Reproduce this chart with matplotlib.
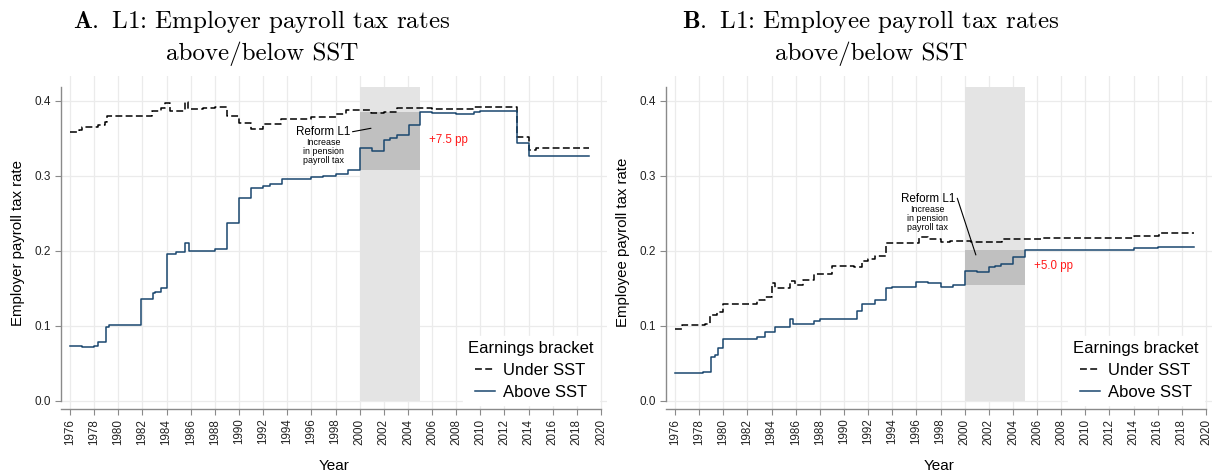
import matplotlib
matplotlib.use("Agg")
import matplotlib.pyplot as plt
import numpy as np

plt.rcParams['font.family'] = ['Liberation Sans', 'DejaVu Sans']
plt.rcParams['mathtext.fontset'] = 'cm'

# Step series: year where a new rate starts, rate value (last point closes the line)
empr_under_years = [1976.0, 1976.75, 1977.0, 1978.35, 1978.9, 1979.1, 1982.8, 1983.5, 1983.9,
                    1984.3, 1985.5, 1985.8, 1987.0, 1988.0, 1989.0, 1990.0, 1991.0, 1992.0,
                    1993.5, 1996.0, 1998.0, 1998.9, 2000.9, 2002.0, 2003.1, 2005.0, 2006.0,
                    2009.4, 2013.0, 2014.0, 2014.6, 2019.0]
empr_under_vals = [0.358, 0.361, 0.365, 0.368, 0.372, 0.380, 0.387, 0.391, 0.397,
                   0.386, 0.398, 0.389, 0.390, 0.392, 0.380, 0.370, 0.363, 0.369,
                   0.376, 0.378, 0.383, 0.388, 0.384, 0.385, 0.390, 0.391, 0.389,
                   0.392, 0.352, 0.335, 0.337, 0.337]

empr_above_years = [1976.0, 1977.0, 1978.0, 1978.3, 1979.0, 1979.25, 1981.85, 1982.85, 1983.0,
                    1983.5, 1984.0, 1984.75, 1985.5, 1985.85, 1987.0, 1988.0, 1989.0, 1990.0,
                    1991.0, 1992.0, 1992.6, 1993.6, 1996.0, 1997.0, 1998.0, 1999.0, 2000.0,
                    2001.0, 2002.0, 2002.5, 2003.1, 2004.1, 2005.0, 2006.0, 2008.0, 2009.5,
                    2010.0, 2013.0, 2014.0, 2015.0, 2019.0]
empr_above_vals = [0.073, 0.0716, 0.073, 0.078, 0.098, 0.101, 0.136, 0.1436, 0.145,
                   0.151, 0.196, 0.198, 0.210, 0.1996, 0.200, 0.202, 0.237, 0.270,
                   0.2836, 0.286, 0.289, 0.296, 0.299, 0.300, 0.303, 0.3076, 0.337,
                   0.333, 0.348, 0.350, 0.355, 0.368, 0.385, 0.384, 0.383, 0.385,
                   0.386, 0.344, 0.326, 0.327, 0.327]

empe_under_years = [1976.0, 1976.6, 1978.5, 1978.9, 1979.45, 1980.0, 1982.8, 1983.45, 1984.0,
                    1984.3, 1985.5, 1985.9, 1986.6, 1987.5, 1989.0, 1990.8, 1991.5, 1992.0,
                    1992.6, 1993.5, 1996.2, 1997.0, 1998.0, 1998.8, 2000.5, 2003.1, 2006.3,
                    2014.0, 2016.1, 2019.0]
empe_under_vals = [0.0956, 0.101, 0.103, 0.115, 0.119, 0.129, 0.135, 0.139, 0.157,
                   0.150, 0.160, 0.155, 0.161, 0.169, 0.180, 0.178, 0.187, 0.189,
                   0.193, 0.211, 0.218, 0.2156, 0.212, 0.2133, 0.2124, 0.2164, 0.217,
                   0.220, 0.2236, 0.2236]

empe_above_years = [1976.0, 1977.0, 1978.35, 1979.0, 1979.3, 1979.6, 1980.0, 1982.8, 1983.45,
                    1984.3, 1985.5, 1985.8, 1987.5, 1988.0, 1991.06, 1991.5, 1992.6, 1993.5,
                    1994.0, 1996.0, 1997.0, 1998.0, 1999.0, 2000.0, 2001.0, 2002.0, 2002.5,
                    2003.0, 2004.0, 2005.0, 2014.0, 2016.0, 2019.0]
empe_above_vals = [0.0378, 0.037, 0.0387, 0.059, 0.0613, 0.071, 0.0822, 0.085, 0.0924,
                   0.098, 0.109, 0.1027, 0.107, 0.109, 0.120, 0.129, 0.134, 0.150,
                   0.152, 0.159, 0.157, 0.1516, 0.1547, 0.1737, 0.172, 0.178, 0.180,
                   0.182, 0.1915, 0.2013, 0.204, 0.2058, 0.2058]

reform_start, reform_end = 2000, 2005
xticks = list(range(1976, 2021, 2))
yticks = [0.0, 0.1, 0.2, 0.3, 0.4]

navy = '#1a476f'
W, H = 1214, 475
fig = plt.figure(figsize=(W / 100, H / 100), dpi=100)
ax1 = fig.add_axes([61 / W, 1 - 409 / H, (607 - 61) / W, (409 - 76) / H])
ax2 = fig.add_axes([666 / W, 1 - 409 / H, (1212 - 666) / W, (409 - 76) / H])


def value_before(years, vals, yr):
    idx = np.searchsorted(years, yr, side='left') - 1
    return vals[idx]


def value_at(years, vals, yr):
    idx = np.searchsorted(years, yr, side='right') - 1
    return vals[idx]


def draw_panel(ax, under_y, under_v, above_y, above_v, ylabel, gain_text, gain_xy,
               reform_xy, line_end, small_xy):
    ytop = 0.419
    ax.set_xlim(1975.25, 2020.5)
    ax.set_ylim(-0.0107, 0.4333)
    ax.set_xticks(xticks)
    ax.set_yticks(yticks)
    ax.set_yticklabels([f'{t:.1f}' for t in yticks])
    ax.grid(True, color='#ebebeb', linewidth=0.9, zorder=0)
    ax.set_axisbelow(True)

    # shaded reform period
    ax.fill_between([reform_start, reform_end], 0, ytop, color='#e4e4e4', linewidth=0, zorder=1)
    lo = value_before(above_y, above_v, reform_start)
    hi = value_at(above_y, above_v, reform_end)
    ax.fill_between([reform_start, reform_end], lo, hi, color='#c0c0c0', linewidth=0, zorder=1.5)

    ax.plot(under_y, under_v, drawstyle='steps-post', color='black', linestyle=(0, (4.5, 2.2)),
            linewidth=1.1, label='Under SST', zorder=3)
    ax.plot(above_y, above_v, drawstyle='steps-post', color=navy, linewidth=1.1,
            label='Above SST', zorder=3)

    for s in ['top', 'right']:
        ax.spines[s].set_visible(False)
    for s in ['left', 'bottom']:
        ax.spines[s].set_color('#8a8a8a')
        ax.spines[s].set_linewidth(1.0)
    ax.spines['left'].set_bounds(0, ytop)
    ax.spines['bottom'].set_bounds(1975.25, 2020)

    ax.tick_params(axis='x', labelrotation=90, labelsize=8.4, length=4, color='#8a8a8a',
                   pad=3, labelcolor='#222222')
    ax.tick_params(axis='y', labelsize=8.5, length=4, color='#8a8a8a', pad=3,
                   labelcolor='#222222')
    ax.set_xlabel('Year', fontsize=11, labelpad=10)
    ax.set_ylabel(ylabel, fontsize=10.8, labelpad=7)

    ax.text(*gain_xy, gain_text, color='#ff1a1a', fontsize=8.3, ha='center', va='center', zorder=4)
    ax.text(*reform_xy, 'Reform L1', fontsize=8.4, ha='center', va='center', zorder=4)
    ax.text(*small_xy, 'Increase\nin pension\npayroll tax', fontsize=6.4, ha='center',
            va='center', linespacing=1.0, zorder=4)
    ax.annotate('', xy=line_end, xytext=(reform_xy[0] + 2.45, reform_xy[1] + 0.001),
                arrowprops=dict(arrowstyle='-', color='black', linewidth=0.8,
                                shrinkA=0, shrinkB=0), zorder=4)

    leg = ax.legend(title='Earnings bracket', loc='lower right', bbox_to_anchor=(1.0, -0.012),
                    fontsize=12, title_fontsize=12, handlelength=1.2, handletextpad=0.5,
                    labelspacing=0.42, frameon=True, borderpad=0.3, fancybox=False)
    leg.get_frame().set_facecolor('white')
    leg.get_frame().set_edgecolor('white')
    leg.get_frame().set_alpha(1)
    leg.set_zorder(5)


draw_panel(ax1, empr_under_years, empr_under_vals, empr_above_years, empr_above_vals,
           'Employer payroll tax rate', '+7.5 pp', (2007.35, 0.348),
           (1996.96, 0.358), (2000.94, 0.3636), (1997.0, 0.332))
draw_panel(ax2, empe_under_years, empe_under_vals, empe_above_years, empe_above_vals,
           'Employee payroll tax rate', '+5.0 pp', (2007.37, 0.180),
           (1996.94, 0.2693), (2000.93, 0.1947), (1996.94, 0.2427))

fig.text(262 / W, 1 - 37 / H, r'$\mathbf{A.}$ L1: Employer payroll tax rates' + '\nabove/below SST',
         family='cmr10', fontsize=18, ha='center', va='center', linespacing=1.3)
fig.text(871 / W, 1 - 37 / H, r'$\mathbf{B.}$ L1: Employee payroll tax rates' + '\nabove/below SST',
         family='cmr10', fontsize=18, ha='center', va='center', linespacing=1.3)

fig.savefig('out.png', dpi=100, facecolor='white')
